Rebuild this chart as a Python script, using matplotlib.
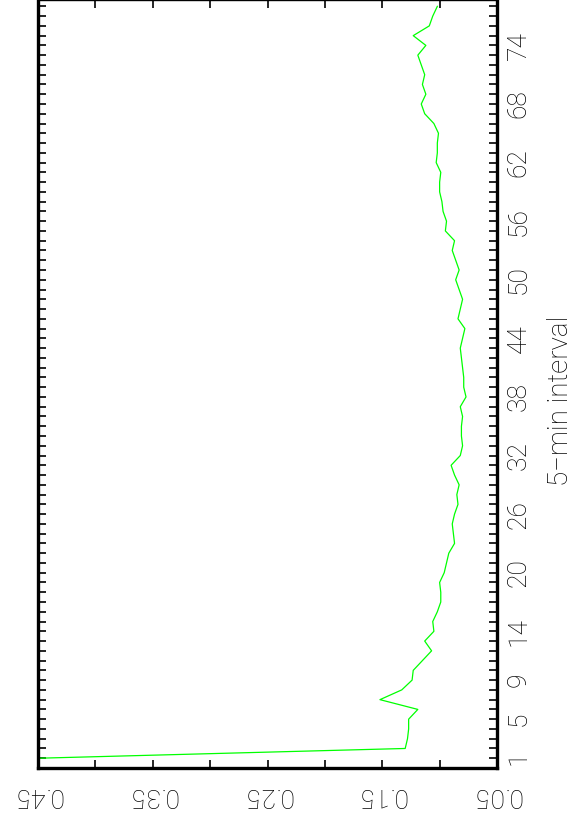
import matplotlib
matplotlib.use("Agg")
import matplotlib.pyplot as plt

# 5-min interval index and the plotted value (chart is drawn turned on its side)
intervals = list(range(1, 79))
values = [0.450, 0.130, 0.128, 0.127, 0.127, 0.119, 0.152, 0.133, 0.124, 0.123,
          0.115, 0.107, 0.113, 0.105, 0.106, 0.102, 0.099, 0.099, 0.100, 0.096,
          0.094, 0.092, 0.087, 0.088, 0.089, 0.087, 0.084, 0.085, 0.083, 0.087,
          0.090, 0.082, 0.080, 0.081, 0.081, 0.080, 0.082, 0.077, 0.079, 0.079,
          0.080, 0.081, 0.082, 0.080, 0.078, 0.084, 0.082, 0.080, 0.083, 0.086,
          0.083, 0.086, 0.089, 0.087, 0.095, 0.094, 0.097, 0.098, 0.100, 0.100,
          0.099, 0.103, 0.102, 0.102, 0.101, 0.105, 0.113, 0.116, 0.112, 0.115,
          0.113, 0.116, 0.119, 0.112, 0.123, 0.109, 0.106, 0.102]

interval_labels = [1, 5, 9, 14, 20, 26, 32, 38, 44, 50, 56, 62, 68, 74]
value_ticks = [0.05, 0.10, 0.15, 0.20, 0.25, 0.30, 0.35, 0.40, 0.45]
value_labels = [0.05, 0.15, 0.25, 0.35, 0.45]

plt.rcParams['font.family'] = ['Roboto', 'DejaVu Sans']
FS = 19

W, H = 574, 815
fig = plt.figure(figsize=(W / 100, H / 100), dpi=100)
ax = fig.add_axes([38 / W, 47 / H, (497 - 38) / W, (H - 47) / H])

ax.plot(values, intervals, color='#00ff00', lw=0.9)

ax.set_xlim(0.45, 0.05)
ax.set_ylim(0, 78.65)

ax.set_yticks(intervals)
ax.set_yticklabels([str(i) if i in interval_labels else '' for i in intervals])
ax.set_xticks(value_ticks)
ax.set_xticklabels(['%.2f' % v if any(abs(v - l) < 1e-9 for l in value_labels) else ''
                    for v in value_ticks])

ax.tick_params(axis='both', direction='in', length=6, width=1.2, color='black',
               top=True, right=True, left=True, bottom=True)
ax.tick_params(axis='y', labelleft=False, labelright=True, pad=7)
ax.tick_params(axis='x', pad=11)

for lab in ax.get_yticklabels():
    lab.set_rotation(90)
    lab.set_fontsize(FS)
    lab.set_fontweight('light')
    lab.set_va('center')
for lab in ax.get_xticklabels():
    lab.set_rotation(180)
    lab.set_fontsize(FS)
    lab.set_fontweight('light')
    lab.set_va('top')

for side in ['left', 'bottom', 'right']:
    ax.spines[side].set_linewidth(2.4)
ax.spines['top'].set_linewidth(1.0)

fig.text(561 / W, 1 - 401 / H, '5\u2212min interval', rotation=90, fontsize=FS + 1,
         fontweight='light', ha='center', va='center')

fig.savefig('out.png', dpi=100)
